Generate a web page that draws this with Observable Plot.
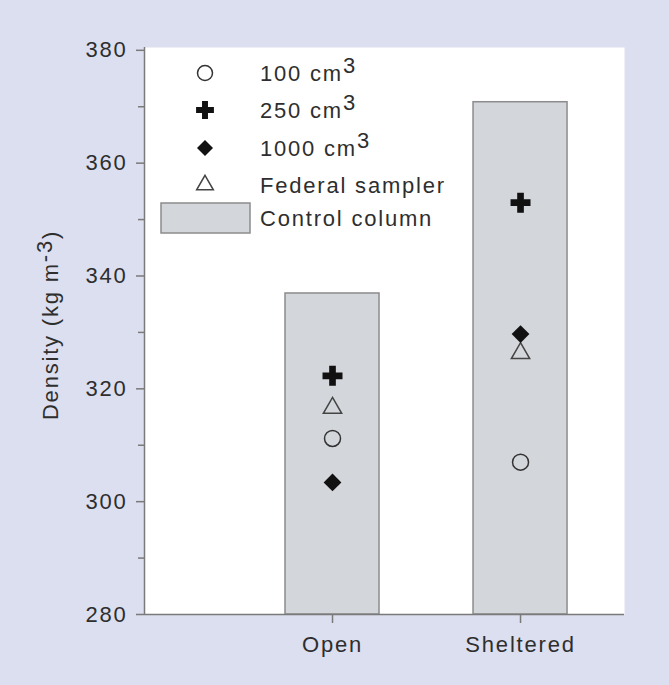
<!DOCTYPE html>
<html><head><meta charset="utf-8">
<script src="https://cdn.jsdelivr.net/npm/d3@7"></script>
<script src="https://cdn.jsdelivr.net/npm/@observablehq/plot@0.6"></script>
<style>
body{margin:0;background:#dcdfef;}
#chart{position:relative;width:669px;height:685px;}
</style></head><body><div id="chart"></div>
<script>
// ---- data ----
const sites = ["Open", "Sheltered"];
const controlColumn = [336.9, 370.8];
const s100 = [311.2, 307.0];
const s250 = [322.3, 353.0];
const s1000 = [303.4, 329.7];
const federal = [316.6, 326.3];
const yTicks = [280, 300, 320, 340, 360, 380];
const yMinor = [290, 310, 330, 350, 370];
const legendLabels = ["100 cm", "250 cm", "1000 cm", "Federal sampler", "Control column"];
const legendSup = ["3", "3", "3", "", ""];

const rows = arr => sites.map((s, i) => ({site: s, x: i + 1, value: arr[i]}));
const bars = rows(controlColumn);

const axisGray = "#7a7a7a";
const textCol = "#2e2e2e";

const plot = Plot.plot({
  width: 669, height: 685,
  marginLeft: 144, marginRight: 45, marginTop: 47, marginBottom: 71,
  style: {background: "transparent", fontFamily: "'Liberation Sans', Arial, sans-serif", fontSize: "22px", color: textCol, letterSpacing: "1.8px"},
  x: {type: "linear", domain: [0, 2.553]},
  y: {domain: [280, 380.5]},
  marks: [
    Plot.frame({fill: "white", stroke: null}),
    Plot.rect(bars, {x1: d => d.x - 0.25, x2: d => d.x + 0.25, y1: yTicks[0], y2: "value", fill: "#d3d6db", stroke: "#8c8c8c", strokeWidth: 1.5}),
    Plot.ruleX([0], {stroke: axisGray, strokeWidth: 1.5}),
    Plot.ruleY([yTicks[0]], {stroke: axisGray, strokeWidth: 1.5}),
    Plot.axisY({ticks: yTicks, tickSize: 8, tickPadding: 9, label: null, stroke: axisGray, fill: textCol, strokeWidth: 1.5, fontSize: 22}),
    Plot.axisY({ticks: yMinor, tickSize: 6, tickFormat: () => "", label: null, stroke: axisGray, strokeWidth: 1.5}),
    Plot.axisX({ticks: [1, 2], tickFormat: d => sites[d - 1], tickSize: 9, tickPadding: 13, label: null, stroke: axisGray, fill: textCol, strokeWidth: 1.5, fontSize: 22}),
    Plot.dot(rows(s100), {x: "x", y: "value", symbol: "circle", r: 8, stroke: "#333", strokeWidth: 1.5, fill: "none"}),
    Plot.dot(rows(s250), {x: "x", y: "value", symbol: "cross", r: 8.4, fill: "#111", stroke: "none"}),
    Plot.dot(rows(federal), {x: "x", y: "value", symbol: "triangle", r: 6.8, stroke: "#444", strokeWidth: 1.5, fill: "none"}),
    Plot.dot(rows(s1000), {x: "x", y: "value", symbol: "diamond2", r: 8, fill: "#111", stroke: "none"})
  ]
});
document.getElementById("chart").appendChild(plot);

const svg = d3.select(plot);

// ---- y label with superscript ----
const yl = svg.append("text")
  .attr("transform", "translate(50,325) rotate(-90)")
  .attr("text-anchor", "middle")
  .attr("dy", "0.35em")
  .attr("fill", textCol)
  .style("font-size", "22px");
yl.append("tspan").text("Density (kg m");
yl.append("tspan").attr("dy", -6).text("-3");
yl.append("tspan").attr("dy", 6).text(")");

// ---- legend ----
const lg = svg.append("g").attr("text-anchor", "start");
const rowY = [73, 110, 148, 185, 218];
const symX = 205, textX = 260;
const sym = (type, r) => d3.symbol().type(type).size(Math.PI * r * r)();
lg.append("path").attr("transform", `translate(${symX},${rowY[0]})`).attr("d", sym(d3.symbolCircle, 7.5)).attr("fill", "none").attr("stroke", "#333").attr("stroke-width", 1.5);
lg.append("path").attr("transform", `translate(${symX},${rowY[1]})`).attr("d", sym(d3.symbolCross, 7.5)).attr("fill", "#111");
lg.append("path").attr("transform", `translate(${symX},${rowY[2]})`).attr("d", sym(d3.symbolDiamond2, 7.2)).attr("fill", "#111");
lg.append("path").attr("transform", `translate(${symX},${rowY[3]})`).attr("d", sym(d3.symbolTriangle, 6.2)).attr("fill", "none").attr("stroke", "#444").attr("stroke-width", 1.5);
lg.append("rect").attr("x", 161).attr("y", rowY[4] - 15).attr("width", 89).attr("height", 30).attr("fill", "#d3d6db").attr("stroke", "#8c8c8c").attr("stroke-width", 1.5);
legendLabels.forEach((lab, i) => {
  const t = lg.append("text").attr("x", textX).attr("y", rowY[i]).attr("dy", "0.35em").attr("fill", textCol).attr("text-anchor", "start").style("font-size", "22px");
  t.append("tspan").text(lab);
  if (legendSup[i]) t.append("tspan").attr("dy", -8).text(legendSup[i]);
});
</script>
</body></html>
